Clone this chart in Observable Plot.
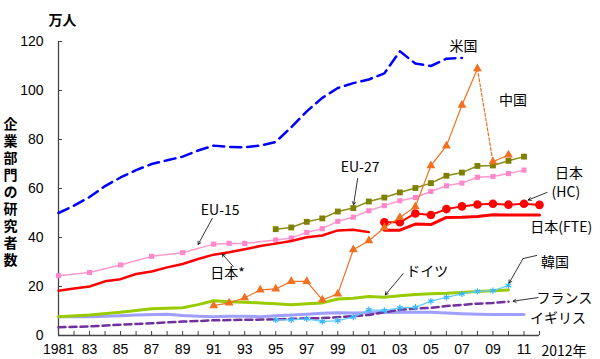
<!DOCTYPE html>
<html><head><meta charset="utf-8">
<script src="https://cdn.jsdelivr.net/npm/d3@7"></script>
<script src="https://cdn.jsdelivr.net/npm/@observablehq/plot@0.6"></script>
<style>body{margin:0;background:#fff}#chart svg{display:block}</style>
</head><body><div id="chart"></div>
<script>
// ---------- data (万人) ----------
const usYears = d3.range(1981, 2008);
const usValues = [50, 53, 56.5, 61, 64.5, 67.5, 70, 71.5, 73, 75.5, 77.5, 77, 76.8, 77.5, 79, 85, 91.5, 97, 101, 103, 104.5, 107, 116, 111, 110, 113, 113.3];

const eu15Years = [1981, 1983, 1985, 1987, 1989, 1991, 1992, 1993, 1995, 1996, 1997, 1998, 1999, 2000, 2001, 2002, 2003, 2004, 2005, 2006, 2007, 2008, 2009, 2010, 2011];
const eu15Values = [24.4, 25.7, 28.8, 32.3, 33.8, 37.3, 37.6, 37.6, 39, 39.8, 42.1, 43.6, 46.6, 48.3, 50.9, 53, 55, 56.3, 58.8, 61.1, 62.2, 64.6, 64.9, 66.1, 67.5];

const eu27Years = d3.range(1995, 2012);
const eu27Values = [43.4, 44.1, 46.4, 47.8, 50.6, 52, 54.7, 56.3, 58.4, 60.2, 62.2, 65.2, 66.5, 69.2, 69.4, 71.3, 73];

const jpOldYears = d3.range(1981, 2002);
const jpOldValues = [18.3, 19.2, 20, 22.1, 23, 25.1, 26.1, 27.8, 29.2, 31.2, 33, 34, 35.2, 36.5, 37.5, 38.6, 40.1, 40.8, 42.9, 43.2, 42.2];

const jpNewYears = d3.range(2002, 2013);
const jpHcValues = [46.2, 46.2, 49.8, 49.2, 51.6, 52.7, 53.5, 53.8, 53.4, 53.8, 53.3];
const jpFteValues = [43, 43, 45.5, 45.3, 48.2, 48.3, 48.6, 49.3, 49.2, 49.2, 49.2];

const cnYears = d3.range(1991, 2011);
const cnValues = [12.2, 13.3, 15.4, 18.6, 19, 22.1, 22.1, 14.5, 17, 35, 38.7, 44, 48.2, 52.6, 69.3, 77.4, 94, 108.9, 70.9, 73.7];

const deYears = [1981, 1983, 1985, 1987, 1989, 1990, 1991, 1992, 1993, 1994, 1995, 1996, 1997, 1998, 1999, 2000, 2001, 2002, 2003, 2004, 2005, 2006, 2007, 2008, 2009, 2010];
const deValues = [7.7, 8.4, 9.5, 10.9, 11.3, 12.6, 14.2, 13.8, 13.6, 13.3, 13, 12.6, 13, 13.3, 14.9, 15.2, 15.9, 15.6, 16.2, 16.7, 17, 17.2, 17.6, 18, 18.3, 18.6];

const krYears = d3.range(1995, 2011);
const krValues = [6.4, 6.4, 6.8, 5.7, 6.1, 7.5, 10.5, 10.2, 11.3, 11.5, 14, 15.6, 17, 18, 18.3, 20.4];

const ukYears = [1981, 1983, 1985, 1986, 1988, 1989, 1990, 1991, 1992, 1993, 1994, 1995, 1996, 1997, 1998, 1999, 2000, 2001, 2002, 2003, 2004, 2005, 2006, 2007, 2008, 2009, 2010, 2011];
const ukValues = [7.7, 7.7, 8.1, 8.4, 8.7, 8.2, 7.9, 7.7, 7.9, 7.9, 7.7, 8.1, 8.4, 8.7, 9.1, 9.3, 9.2, 9.3, 9.4, 9.5, 9.5, 9.5, 9.2, 8.9, 8.7, 8.6, 8.6, 8.6];

const frYears = [1981, 1983, 1985, 1987, 1989, 1990, 1991, 1993, 1995, 1996, 1997, 1998, 1999, 2000, 2001, 2002, 2003, 2004, 2005, 2006, 2007, 2008, 2009, 2010];
const frValues = [3.4, 3.7, 4.4, 5.0, 5.7, 5.9, 6.2, 6.4, 6.6, 6.8, 7.0, 7.1, 7.5, 7.9, 8.4, 9.5, 10.5, 11, 11.3, 12, 12.5, 13, 13.3, 13.8];

const yTicks = [0, 20, 40, 60, 80, 100, 120];
const xTicks = d3.range(1981, 2013);
const xTickLabels = xTicks.map(y => y === 1981 ? "1981" : (y % 2 === 1 ? String(y).slice(2) : ""));
const yTitle = "企業部門の研究者数";

const labels = [
  {text: "米国", year: 2007.1, value: 118},
  {text: "中国", year: 2010.3, value: 95.9},
  {text: "EU-27", year: 2000.44, value: 68.6},
  {text: "EU-15", year: 1991.42, value: 51},
  {text: "日本*", year: 1991.9, value: 25.3},
  {text: "ドイツ", year: 2004.76, value: 26.1},
  {text: "韓国", year: 2013.0, value: 29.8},
  {text: "フランス", year: 2013.6, value: 15.1},
  {text: "イギリス", year: 2013.2, value: 6.9},
  {text: "日本", year: 2013.9, value: 66.1},
  {text: "(HC)", year: 2013.7, value: 58.4},
  {text: "日本(FTE)", year: 2013.4, value: 44.1}
];
const arrows = [
  {x1: 2000.28, y1: 64.1, x2: 2000.02, y2: 53.4},
  {x1: 1990.91, y1: 47.8, x2: 1990.0, y2: 37.2},
  {x1: 1992.26, y1: 28.2, x2: 1991.55, y2: 33.3},
  {x1: 2003.22, y1: 25.3, x2: 2002.06, y2: 16.6},
  {x1: 2010.94, y1: 31.4, x2: 2010.04, y2: 21.4},
  {x1: 2011.91, y1: 15.5, x2: 2010.3, y2: 14.0},
  {x1: 2012.49, y1: 58.4, x2: 2011.27, y2: 55.3}
];
const leaders = [{x1: 2011.84, y1: 32.7, x2: 2010.94, y2: 31.4}];

// ---------- build tables ----------
const table = (years, values) => years.map((year, i) => ({year, value: values[i]}));
const us = table(usYears, usValues);
const eu15 = table(eu15Years, eu15Values);
const eu27 = table(eu27Years, eu27Values);
const jpOld = table(jpOldYears, jpOldValues);
const jpHc = table(jpNewYears, jpHcValues);
const jpFte = table(jpNewYears, jpFteValues);
const cn = table(cnYears, cnValues);
const cnA = cn.filter(d => d.year <= 2008);
const cnB = cn.filter(d => d.year >= 2008 && d.year <= 2009);
const cnC = cn.filter(d => d.year >= 2009);
const de = table(deYears, deValues);
const kr = table(krYears, krValues);
const uk = table(ukYears, ukValues);
const fr = table(frYears, frValues);

const jp = "'Noto Sans CJK JP', sans-serif";
const xy = {x: "year", y: "value"};

const chart = Plot.plot({
  width: 600,
  height: 359,
  marginLeft: 58,
  marginRight: 61,
  marginTop: 41,
  marginBottom: 24,
  x: {domain: [1981, 2012]},
  y: {domain: [0, 120]},
  style: {fontFamily: jp, background: "#fff"},
  marks: [
    Plot.axisY({ticks: yTicks, tickSize: 0, tickPadding: 15, fontSize: 14, label: null, fontFamily: "'Liberation Sans', sans-serif"}),
    Plot.axisY({ticks: yTicks, tickSize: -4, tickFormat: () => "", label: null, stroke: "#444"}),
    Plot.axisX({ticks: xTicks, tickSize: 0, tickPadding: 9, fontSize: 14, label: null, tickFormat: (d, i) => xTickLabels[i], fontFamily: "'Liberation Sans', sans-serif"}),
    Plot.axisX({ticks: xTicks, tickSize: -4, tickFormat: () => "", label: null, stroke: "#444"}),
    Plot.ruleX([1981], {stroke: "#444", strokeWidth: 1.3}),
    Plot.ruleY([0], {stroke: "#444", strokeWidth: 1.3}),

    Plot.line(uk, {...xy, stroke: "#9f9fff", strokeWidth: 3}),
    Plot.line(fr, {...xy, stroke: "#7030a0", strokeWidth: 2.5, strokeDasharray: "7,4"}),
    Plot.line(de, {...xy, stroke: "#99cc00", strokeWidth: 3}),
    Plot.line(kr, {...xy, stroke: "#66ccff", strokeWidth: 1.3}),
    Plot.dot(kr, {...xy, symbol: "asterisk", r: 3, stroke: "#33b5ff", strokeWidth: 1.2}),

    Plot.line(eu15, {...xy, stroke: "#ff99cc", strokeWidth: 1.5}),
    Plot.dot(eu15, {...xy, symbol: "square", r: 2.9, fill: "#ff88cc"}),
    Plot.line(eu27, {...xy, stroke: "#8b8b1a", strokeWidth: 1.5}),
    Plot.dot(eu27, {...xy, symbol: "square", r: 3.3, fill: "#808000"}),

    Plot.line(jpOld, {...xy, stroke: "#ff0000", strokeWidth: 2.5}),
    Plot.line(jpFte, {...xy, stroke: "#ff0000", strokeWidth: 3}),
    Plot.line(jpHc, {...xy, stroke: "#ff0000", strokeWidth: 2}),
    Plot.dot(jpHc, {...xy, r: 4.3, fill: "#ff0000"}),

    Plot.line(cnA, {...xy, stroke: "#f07020", strokeWidth: 1.2}),
    Plot.line(cnB, {...xy, stroke: "#f07020", strokeWidth: 1.2, strokeDasharray: "3,2"}),
    Plot.line(cnC, {...xy, stroke: "#f07020", strokeWidth: 1.2}),
    Plot.dot(cn, {...xy, symbol: "triangle", r: 3.3, fill: "#f07020"}),

    Plot.line(us, {...xy, stroke: "#0000ff", strokeWidth: 2.5, strokeDasharray: "11,6"}),

    Plot.link(leaders, {x1: "x1", y1: "y1", x2: "x2", y2: "y2", stroke: "#000", strokeWidth: 0.8}),
    Plot.arrow(arrows, {x1: "x1", y1: "y1", x2: "x2", y2: "y2", stroke: "#000", strokeWidth: 0.8, headLength: 6}),
    Plot.text(labels, {x: "year", y: "value", text: "text", fontSize: 14, fill: "#000"}),
    Plot.text(["2012年"], {x: 2012, y: 0, text: d => d, textAnchor: "start", dx: 2, dy: 16, fontSize: 14, fill: "#000"}),
    Plot.text(["万人"], {x: 1981.25, y: 128.6, text: d => d, fontSize: 14, fontWeight: "bold", fill: "#000"}),
    Plot.text([yTitle], {x: 1977.9, y: 59.9, text: d => d, fontSize: 14, fontWeight: "bold", fill: "#000"})
  ]
});
// set the y title vertical (one text element)
d3.select(chart).selectAll("text")
  .filter(function() { return this.textContent === yTitle; })
  .attr("writing-mode", "vertical-rl")
  .attr("dy", null)
  .style("letter-spacing", "3.1px");
document.getElementById("chart").appendChild(chart);
</script></body></html>
